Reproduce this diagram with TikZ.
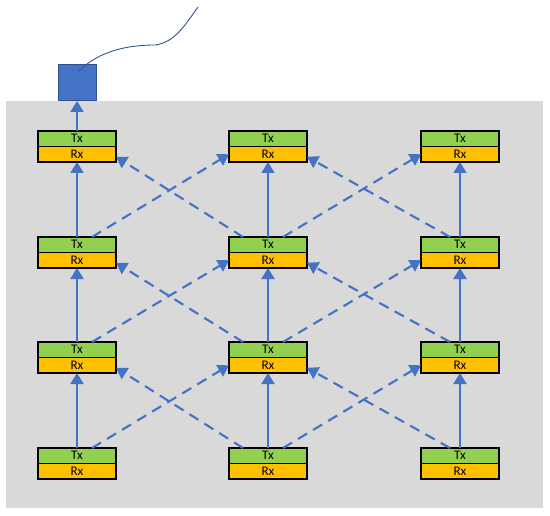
\documentclass[tikz,border=0pt]{standalone}
\usepackage{fontspec}
\setmainfont{Carlito}
\definecolor{txgreen}{RGB}{146, 208, 80}
\definecolor{rxorange}{RGB}{255, 192, 0}
\definecolor{linkblue}{RGB}{68, 114, 196}
\definecolor{sinkblue}{RGB}{68, 114, 196}
\definecolor{sinkedge}{RGB}{47, 82, 143}
\definecolor{fieldgray}{RGB}{217, 217, 217}
\usetikzlibrary{arrows.meta,positioning,calc}

\begin{document}
\begin{tikzpicture}[
  half/.style={rectangle, draw=black, line width=0.7pt, outer sep=0pt, minimum height=0.31cm, minimum width=1.56cm, inner sep=0pt, text centered, font=\fontsize{7.5}{8}\selectfont},
  tx/.style={half, fill=txgreen},
  rx/.style={half, fill=rxorange},
  up/.style={-{Triangle[length=2.2mm, width=2.6mm]}, line width=1.2pt, linkblue},
  hop/.style={up, dash pattern=on 6pt off 4pt}
]
  \useasboundingbox (0,0) rectangle (11,10.3);
  \fill[fieldgray] (0.12,0.14) rectangle (10.86,8.28);
  % sink with its antenna
  \node[rectangle, fill=sinkblue, draw=sinkedge, line width=0.4pt, minimum width=0.76cm, minimum height=0.72cm, inner sep=0pt, anchor=south] (sink) at (1.54,8.28) {};
  \draw[sinkedge, line width=0.5pt] (1.58,8.88) .. controls (2.0,9.3) and (2.6,9.4) .. (3.1,9.4) .. controls (3.5,9.45) and (3.7,9.8) .. (3.96,10.16);
  % row 1
  \node[tx] (tx11) at (1.54,7.525) {Tx};
  \node[rx, below=0pt of tx11] (rx11) {Rx};
  \node[tx] (tx21) at (5.36,7.525) {Tx};
  \node[rx, below=0pt of tx21] (rx21) {Rx};
  \node[tx] (tx31) at (9.2,7.525) {Tx};
  \node[rx, below=0pt of tx31] (rx31) {Rx};
  % row 2
  \node[tx] (tx12) at (1.54,5.405) {Tx};
  \node[rx, below=0pt of tx12] (rx12) {Rx};
  \node[tx] (tx22) at (5.36,5.405) {Tx};
  \node[rx, below=0pt of tx22] (rx22) {Rx};
  \node[tx] (tx32) at (9.2,5.405) {Tx};
  \node[rx, below=0pt of tx32] (rx32) {Rx};
  % row 3
  \node[tx] (tx13) at (1.54,3.305) {Tx};
  \node[rx, below=0pt of tx13] (rx13) {Rx};
  \node[tx] (tx23) at (5.36,3.305) {Tx};
  \node[rx, below=0pt of tx23] (rx23) {Rx};
  \node[tx] (tx33) at (9.2,3.305) {Tx};
  \node[rx, below=0pt of tx33] (rx33) {Rx};
  % row 4
  \node[tx] (tx14) at (1.54,1.185) {Tx};
  \node[rx, below=0pt of tx14] (rx14) {Rx};
  \node[tx] (tx24) at (5.36,1.185) {Tx};
  \node[rx, below=0pt of tx24] (rx24) {Rx};
  \node[tx] (tx34) at (9.2,1.185) {Tx};
  \node[rx, below=0pt of tx34] (rx34) {Rx};
  % straight links
  \draw[up] (tx11) -- (sink);
  \draw[up] (tx12) -- (rx11);
  \draw[up] (tx13) -- (rx12);
  \draw[up] (tx14) -- (rx13);
  \draw[up] (tx22) -- (rx21);
  \draw[up] (tx23) -- (rx22);
  \draw[up] (tx24) -- (rx23);
  \draw[up] (tx32) -- (rx31);
  \draw[up] (tx33) -- (rx32);
  \draw[up] (tx34) -- (rx33);
  % crossing links
  \draw[hop] ($(tx12.north)+(0.3,0)$) -- (rx21.west);
  \draw[hop] ($(tx22.north)+(0.3,0)$) -- (rx31.west);
  \draw[hop] ($(tx22.north)+(-0.5,0)$) -- ($(rx11.east)+(0,-0.05)$);
  \draw[hop] ($(tx32.north)+(-0.2,0)$) -- ($(rx21.east)+(0,-0.05)$);
  \draw[hop] ($(tx13.north)+(0.3,0)$) -- (rx22.west);
  \draw[hop] ($(tx23.north)+(0.3,0)$) -- (rx32.west);
  \draw[hop] ($(tx23.north)+(-0.5,0)$) -- ($(rx12.east)+(0,-0.05)$);
  \draw[hop] ($(tx33.north)+(-0.2,0)$) -- ($(rx22.east)+(0,-0.05)$);
  \draw[hop] ($(tx14.north)+(0.3,0)$) -- (rx23.west);
  \draw[hop] ($(tx24.north)+(0.3,0)$) -- (rx33.west);
  \draw[hop] ($(tx24.north)+(-0.5,0)$) -- ($(rx13.east)+(0,-0.05)$);
  \draw[hop] ($(tx34.north)+(-0.2,0)$) -- ($(rx23.east)+(0,-0.05)$);
\end{tikzpicture}
\end{document}
